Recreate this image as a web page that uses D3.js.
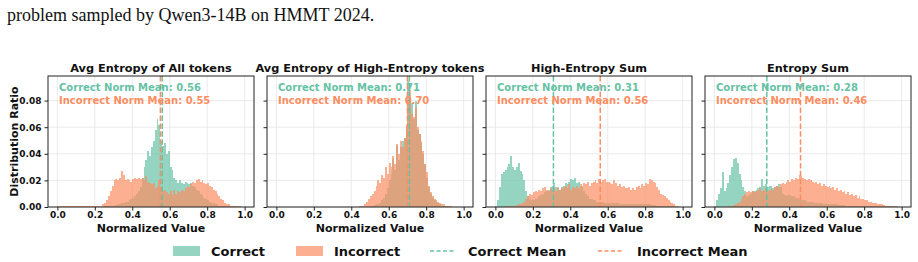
<!DOCTYPE html>
<html lang="en">
<head>
<meta charset="UTF-8">
<title>Normalized entropy distributions</title>
<script src="https://d3js.org/d3.v7.min.js"></script>
<style>
  body { margin: 0; background: #fff; }
  svg text { font-family: "DejaVu Sans", sans-serif; font-weight: bold; fill: #111; }
  svg text.caption { font-family: "Liberation Serif", "Times New Roman", serif; font-weight: normal; }
  .tick line { stroke: #222; }
  .grid line { stroke: #e6e6e6; stroke-width: 0.8; }
</style>
</head>
<body>
<svg width="918" height="262"></svg>
<script>
// histogram ratios per bin of width 0.01, bins 0.00 .. 0.99
const avgAllCorrect = [
  .0003,.0003,.0003,.0003,.0003,.0003,.0003,.0003,.0003,.0003,
  .0003,.0003,.0003,.0003,.0003,.0003,.0003,.0003,.0003,.0003,
  .0003,.0003,.0003,.0003,.0003,.0005,.0005,.0008,.0008,.001,
  .001,.0015,.002,.002,.003,.003,.004,.004,.005,.006,
  .007,.008,.010,.012,.015,.022,.030,.035,.042,.038,
  .045,.050,.058,.066,.062,.050,.046,.048,.040,.042,
  .030,.028,.022,.020,.018,.020,.018,.017,.019,.018,
  .017,.018,.016,.015,.013,.012,.010,.009,.007,.006,
  .005,.004,.003,.003,.002,.002,.001,.001,.001,.001,
  .0005,.0005,.0005,.0005,.0005,.0003,.0003,.0003,.0003,.0003
];
const avgAllIncorrect = [
  .0004,.0004,.0004,.0004,.0004,.0004,.0004,.0004,.0004,.0004,
  .0004,.0004,.0004,.0004,.0004,.0004,.0004,.0004,.0004,.0004,
  .0004,.0004,.0006,.001,.002,.003,.005,.008,.012,.016,
  .020,.021,.020,.022,.027,.024,.020,.021,.020,.019,
  .021,.022,.021,.022,.021,.022,.020,.023,.019,.018,
  .017,.018,.014,.016,.020,.015,.012,.013,.011,.010,
  .012,.009,.013,.010,.012,.011,.013,.012,.014,.016,
  .015,.017,.019,.018,.020,.021,.019,.020,.018,.017,
  .018,.016,.015,.013,.012,.010,.008,.006,.005,.003,
  .002,.002,.001,.0008,.0005,.0005,.0004,.0004,.0003,.0003
];
const avgHighCorrect = [
  .0003,.0003,.0003,.0003,.0003,.0003,.0003,.0003,.0003,.0003,
  .0003,.0003,.0003,.0003,.0003,.0003,.0003,.0003,.0003,.0003,
  .0003,.0003,.0003,.0003,.0003,.0003,.0003,.0003,.0003,.0003,
  .0003,.0003,.0003,.0003,.0003,.0003,.0003,.0003,.0003,.0003,
  .0003,.0003,.0003,.0003,.0003,.0003,.0003,.0003,.0003,.0003,
  .0005,.001,.0015,.002,.0025,.003,.005,.007,.010,.014,
  .020,.025,.036,.028,.046,.035,.045,.050,.052,.060,
  .095,.082,.078,.066,.080,.058,.055,.048,.040,.032,
  .022,.015,.010,.007,.005,.004,.003,.002,.001,.001,
  .0005,.0005,.0003,.0003,.0003,.0003,.0003,.0003,.0003,.0003
];
const avgHighIncorrect = [
  .0003,.0003,.0003,.0003,.0003,.0003,.0003,.0003,.0003,.0003,
  .0003,.0003,.0003,.0003,.0003,.0003,.0003,.0003,.0003,.0003,
  .0003,.0003,.0003,.0003,.0003,.0003,.0003,.0003,.0003,.0003,
  .0003,.0003,.0003,.0003,.0003,.0003,.0003,.0003,.0003,.0003,
  .0003,.0003,.0003,.0003,.0005,.0005,.001,.002,.004,.006,
  .008,.010,.012,.016,.020,.018,.024,.022,.030,.025,
  .033,.030,.038,.032,.047,.040,.050,.045,.052,.062,
  .078,.088,.070,.068,.075,.060,.055,.050,.042,.032,
  .026,.016,.011,.008,.006,.005,.004,.003,.002,.002,
  .001,.001,.0005,.0005,.0003,.0003,.0003,.0003,.0003,.0003
];
const highSumCorrect = [
  .001,.005,.015,.025,.026,.028,.030,.032,.038,.030,
  .028,.030,.033,.027,.025,.020,.012,.008,.006,.005,
  .005,.006,.007,.008,.009,.010,.011,.012,.013,.015,
  .016,.018,.015,.014,.013,.015,.016,.018,.017,.019,
  .021,.020,.022,.018,.019,.016,.015,.012,.010,.008,
  .006,.006,.005,.005,.004,.004,.004,.004,.003,.003,
  .003,.003,.003,.003,.003,.003,.002,.002,.002,.002,
  .002,.002,.002,.002,.002,.002,.002,.002,.002,.002,
  .002,.002,.002,.0015,.0015,.0015,.001,.001,.001,.001,
  .001,.0008,.0008,.0005,.0005,.0005,.0003,.0003,.0003,.0003
];
const highSumIncorrect = [
  .0003,.0003,.0003,.0003,.0003,.0005,.0005,.0005,.0008,.001,
  .001,.0015,.002,.002,.003,.004,.006,.008,.010,.009,
  .011,.012,.011,.013,.012,.014,.015,.013,.012,.014,
  .013,.014,.012,.015,.013,.014,.015,.016,.014,.017,
  .013,.015,.014,.016,.014,.017,.016,.018,.017,.019,
  .016,.018,.019,.020,.018,.021,.019,.020,.021,.019,
  .019,.018,.017,.020,.018,.016,.017,.015,.016,.014,
  .014,.015,.013,.014,.013,.015,.016,.014,.017,.016,
  .018,.017,.021,.020,.019,.018,.015,.013,.010,.009,
  .008,.007,.005,.004,.003,.002,.001,.0005,.0003,.0003
];
const sumCorrect = [
  .001,.005,.010,.014,.026,.012,.014,.018,.024,.030,
  .036,.037,.033,.025,.020,.015,.012,.008,.009,.010,
  .012,.012,.013,.014,.015,.021,.016,.017,.015,.016,
  .016,.014,.015,.016,.017,.015,.010,.009,.008,.009,
  .009,.008,.008,.007,.007,.006,.005,.005,.005,.004,
  .004,.004,.004,.003,.003,.003,.003,.003,.002,.002,
  .002,.002,.002,.002,.002,.002,.0015,.0015,.0015,.0015,
  .001,.001,.001,.001,.001,.001,.001,.001,.001,.001,
  .0008,.0008,.0008,.0008,.0008,.0006,.0006,.0006,.0006,.0006,
  .0005,.0005,.0005,.0005,.0005,.0003,.0003,.0003,.0003,.0003
];
const sumIncorrect = [
  .0003,.0003,.0003,.0003,.0003,.0003,.0003,.0005,.0008,.001,
  .0015,.002,.003,.004,.006,.008,.010,.011,.012,.011,
  .012,.011,.013,.012,.014,.012,.013,.014,.012,.013,
  .014,.013,.015,.016,.015,.017,.018,.017,.019,.020,
  .019,.021,.020,.022,.021,.024,.023,.022,.021,.020,
  .021,.020,.019,.018,.019,.017,.018,.016,.017,.016,
  .015,.016,.014,.015,.013,.014,.012,.013,.011,.012,
  .010,.011,.009,.010,.008,.009,.007,.008,.006,.006,
  .005,.005,.004,.004,.003,.003,.003,.002,.002,.002,
  .0015,.001,.001,.0008,.0008,.0005,.0005,.0005,.0003,.0003
];

const titles = ["Avg Entropy of All tokens", "Avg Entropy of High-Entropy tokens", "High-Entropy Sum", "Entropy Sum"];
const correctSeries = [avgAllCorrect, avgHighCorrect, highSumCorrect, sumCorrect];
const incorrectSeries = [avgAllIncorrect, avgHighIncorrect, highSumIncorrect, sumIncorrect];
const correctMeans = [0.56, 0.71, 0.31, 0.28];
const incorrectMeans = [0.55, 0.70, 0.56, 0.46];
const xTicks = [0, 0.2, 0.4, 0.6, 0.8, 1.0];
const yTicks = [0, 0.02, 0.04, 0.06, 0.08];
const binWidth = 0.01;

const green = "#66c2a5", orange = "#fc8d62";
const svg = d3.select("svg");

svg.append("text").attr("class", "caption")
  .attr("x", 7).attr("y", 21).style("font-size", "18px")
  .text("problem sampled by Qwen3-14B on HMMT 2024.");

const panelW = 206, plotTop = 76, plotBottom = 207, firstLeft = 48, step = 219;
const y = d3.scaleLinear().domain([0, 0.0985]).range([plotBottom, plotTop]);

titles.forEach((title, p) => {
  const left = firstLeft + p * step;
  const x = d3.scaleLinear().domain([-0.05, 1.05]).range([left, left + panelW]);
  const g = svg.append("g");

  // grid
  const grid = g.append("g").attr("class", "grid");
  grid.selectAll(".gx").data(xTicks).join("line").attr("class", "gx")
    .attr("x1", d => x(d)).attr("x2", d => x(d)).attr("y1", plotTop).attr("y2", plotBottom);
  grid.selectAll(".gy").data(yTicks).join("line").attr("class", "gy")
    .attr("x1", left).attr("x2", left + panelW).attr("y1", d => y(d)).attr("y2", d => y(d));

  // histograms
  [[correctSeries[p], green], [incorrectSeries[p], orange]].forEach(([vals, col]) => {
    g.append("g").selectAll("rect").data(vals).join("rect")
      .attr("x", (d, i) => x(i * binWidth))
      .attr("width", (d, i) => x((i + 1) * binWidth) - x(i * binWidth))
      .attr("y", d => y(d))
      .attr("height", d => y(0) - y(d))
      .attr("fill", col).attr("fill-opacity", 0.7)
      .attr("shape-rendering", "crispEdges");
  });

  // mean lines
  [[correctMeans[p], green], [incorrectMeans[p], orange]].forEach(([m, col]) => {
    g.append("line")
      .attr("x1", x(m)).attr("x2", x(m)).attr("y1", plotTop).attr("y2", plotBottom)
      .attr("stroke", col).attr("stroke-width", 1.5).attr("stroke-dasharray", "5.5,2.4");
  });

  // axes
  const ax = g.append("g").attr("transform", `translate(0,${plotBottom})`)
    .call(d3.axisBottom(x).tickValues(xTicks).tickFormat(d3.format(".1f")).tickSize(3.5).tickPadding(1.5));
  ax.select(".domain").remove();
  ax.selectAll("text").style("font-size", "9px");

  const ay = g.append("g").attr("transform", `translate(${left},0)`)
    .call(d3.axisLeft(y).tickValues(yTicks)
      .tickFormat(p === 0 ? d3.format(".2f") : () => "").tickSize(3.5).tickPadding(3));
  ay.select(".domain").remove();
  ay.selectAll("text").style("font-size", "9px");

  g.append("rect").attr("x", left).attr("y", plotTop).attr("width", panelW).attr("height", plotBottom - plotTop)
    .attr("fill", "none").attr("stroke", "#222").attr("stroke-width", 1);

  // titles and labels
  g.append("text").attr("x", left + panelW / 2).attr("y", 72).attr("text-anchor", "middle")
    .style("font-size", "11.3px").text(title);
  g.append("text").attr("x", left + panelW / 2).attr("y", 232).attr("text-anchor", "middle")
    .style("font-size", "11px").text("Normalized Value");

  g.append("text").attr("x", left + 11).attr("y", 91).style("font-size", "10px")
    .style("fill", green).text(`Correct Norm Mean: ${correctMeans[p].toFixed(2)}`);
  g.append("text").attr("x", left + 11).attr("y", 104).style("font-size", "10px")
    .style("fill", orange).text(`Incorrect Norm Mean: ${incorrectMeans[p].toFixed(2)}`);
});

svg.append("text").attr("transform", `translate(18,${(plotTop + plotBottom) / 2}) rotate(-90)`)
  .attr("text-anchor", "middle").style("font-size", "11px").text("Distribution Ratio");

// legend
const legend = svg.append("g");
const ly = 251;
[["Correct", green, 173, 211], ["Incorrect", orange, 296, 334]].forEach(([lab, col, px, tx]) => {
  legend.append("rect").attr("x", px).attr("y", ly - 5).attr("width", 27).attr("height", 10)
    .attr("fill", col).attr("fill-opacity", 0.7);
  legend.append("text").attr("x", tx).attr("y", ly + 5).style("font-size", "13px").text(lab);
});
[["Correct Mean", green, 430, 468], ["Incorrect Mean", orange, 598, 637]].forEach(([lab, col, px, tx]) => {
  legend.append("line").attr("x1", px).attr("x2", px + 26).attr("y1", ly).attr("y2", ly)
    .attr("stroke", col).attr("stroke-width", 1.5).attr("stroke-dasharray", "4,2.5");
  legend.append("text").attr("x", tx).attr("y", ly + 5).style("font-size", "13px").text(lab);
});
</script>
</body>
</html>
